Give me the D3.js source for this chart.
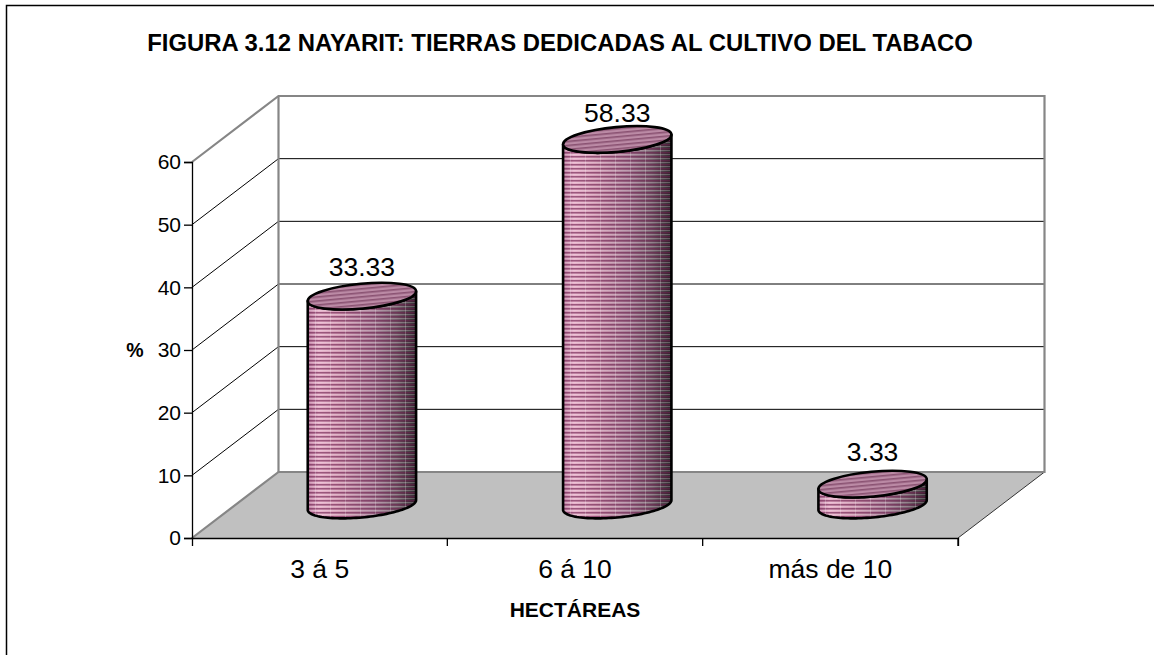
<!DOCTYPE html>
<html><head><meta charset="utf-8">
<script src="https://cdnjs.cloudflare.com/ajax/libs/d3/7.8.5/d3.min.js"></script>
<style>html,body{margin:0;padding:0;background:#fff}svg{display:block}text{font-family:"Liberation Sans",Arial,sans-serif;fill:#000}</style>
</head><body><svg id="c" width="1154" height="655"></svg>
<script>
const titleText = "FIGURA 3.12 NAYARIT: TIERRAS DEDICADAS AL CULTIVO DEL TABACO";
const xTitle = "HECTÁREAS";
const yTitle = "%";
const categories = ["3 á 5","6 á 10","más de 10"];
const values = [33.33,58.33,3.33];
const valueLabels = ["33.33","58.33","3.33"];
const yTicks = [0,10,20,30,40,50,60];

const svg = d3.select("#c");
const frontLeft=192, frontRight=958, frontBase=538, frontTop=162;
const dx=86.5, dy=-66;
const x = d3.scaleBand().domain(categories).range([frontLeft,frontRight]);
const y = d3.scaleLinear().domain([0,60]).range([frontBase,frontTop]);
const labelGap = d3.scaleLinear().domain([0,60]).range([23.3,17.2]);

// chart frame: only its top and left edges fall inside the picture
svg.append("path").attr("d","M1154,5.5H6.5V655").attr("fill","none").attr("stroke","#000").attr("stroke-width",1.5);

// defs
const defs = svg.append("defs");
const side = defs.append("linearGradient").attr("id","side");
[[0,"#b8759a"],[0.1,"#e6aec8"],[0.3,"#d096b0"],[0.6,"#a27690"],[0.82,"#6b5361"],[1,"#1f181d"]].forEach(s=>side.append("stop").attr("offset",s[0]).attr("stop-color",s[1]));
const stripes = defs.append("pattern").attr("id","stripes").attr("patternUnits","userSpaceOnUse").attr("width",15).attr("height",4);
stripes.append("rect").attr("y",0).attr("width",15).attr("height",1.5).attr("fill","#6d2450").attr("fill-opacity",0.62);
stripes.append("rect").attr("y",2.2).attr("width",15).attr("height",1).attr("fill","#fff").attr("fill-opacity",0.34);
stripes.append("rect").attr("x",0).attr("width",1).attr("height",4).attr("fill","#fff").attr("fill-opacity",0.22);
const topP = defs.append("pattern").attr("id","topStripes").attr("patternUnits","userSpaceOnUse").attr("width",4).attr("height",4);
topP.append("rect").attr("width",4).attr("height",4).attr("fill","#bb8aa5");
topP.append("rect").attr("width",4).attr("height",1.6).attr("fill","#8a5272");

// floor
const fl = [[frontLeft,frontBase],[frontRight,frontBase],[frontRight+dx,frontBase+dy],[frontLeft+dx,frontBase+dy]];
svg.append("polygon").attr("points",fl.join(" ")).attr("fill","#c0c0c0");
svg.append("line").attr("x1",frontRight).attr("y1",frontBase).attr("x2",frontRight+dx).attr("y2",frontBase+dy).attr("stroke","#333").attr("stroke-width",1);

// gridlines
yTicks.slice(1,-1).forEach(t=>{
  svg.append("polyline").attr("points",[[frontLeft,y(t)],[frontLeft+dx,y(t)+dy],[frontRight+dx,y(t)+dy]].join(" ")).attr("fill","none").attr("stroke","#000").attr("stroke-width",1);
});
// wall edges, gray
const gray="#868686";
svg.append("polyline").attr("points",[[frontLeft,y(60)],[frontLeft+dx,y(60)+dy],[frontRight+dx,y(60)+dy],[frontRight+dx,y(0)+dy],[frontLeft+dx,y(0)+dy],[frontLeft,y(0)]].join(" ")).attr("fill","none").attr("stroke",gray).attr("stroke-width",2.2);
svg.append("line").attr("x1",frontLeft+dx).attr("y1",y(60)+dy).attr("x2",frontLeft+dx).attr("y2",y(0)+dy).attr("stroke",gray).attr("stroke-width",2.2);

// axes
const yAxis = d3.axisLeft(y).tickValues(yTicks).tickSize(8).tickPadding(3);
const gy = svg.append("g").attr("transform",`translate(${frontLeft},0)`).call(yAxis);
gy.selectAll("text").attr("font-size",21).style("font-family",'"Liberation Sans",Arial,sans-serif');
gy.selectAll("path,line").attr("stroke","#000").attr("stroke-width",1.3);
const xAxis = d3.axisBottom(x).tickSize(8).tickPadding(13).tickSizeOuter(8);
const gx = svg.append("g").attr("transform",`translate(0,${frontBase})`).call(xAxis);
gx.selectAll("path,line").attr("stroke","#000").attr("stroke-width",1.3);
gx.selectAll(".tick line").attr("transform",`translate(${x.step()/2},0)`);
gx.selectAll("text").attr("font-size",26.5).style("font-family",'"Liberation Sans",Arial,sans-serif');

// cylinders
const rx=54.4, ry=12.4, tilt=-5.4;
const t=tilt*Math.PI/180;
const ellipseX=(cx,a)=>cx+rx*Math.cos(a)*Math.cos(t)-ry*Math.sin(a)*Math.sin(t);
const ellipseY=(cy,a)=>cy+rx*Math.cos(a)*Math.sin(t)+ry*Math.sin(a)*Math.cos(t);
const a0=Math.atan2(-ry*Math.sin(t),rx*Math.cos(t)); // rightmost point angle
const cxOff=x.bandwidth()/2 + dx*0.5 - 1;
categories.forEach((c,i)=>{
  const cx=x(c)+cxOff;
  const cyBase=y(0)+dy*0.5;
  const scale=(y(0)-y(60))/60;
  const cyTop=cyBase-values[i]*scale;
  const n=60, lower=d3.range(n+1).map(k=>a0+Math.PI*k/n);
  const pts=[];
  lower.forEach(a=>pts.push([ellipseX(cx,a),ellipseY(cyBase,a)]));
  lower.slice().reverse().forEach(a=>pts.push([ellipseX(cx,a),ellipseY(cyTop,a)]));
  const p=d3.line()(pts)+"Z";
  svg.append("path").attr("d",p).attr("fill","url(#side)");
  svg.append("path").attr("d",p).attr("fill","url(#stripes)").attr("stroke","#000").attr("stroke-width",2.6).attr("stroke-linejoin","round");
  svg.append("ellipse").attr("cx",cx).attr("cy",cyTop).attr("rx",rx).attr("ry",ry)
    .attr("transform",`rotate(${tilt} ${cx} ${cyTop})`).attr("fill","url(#topStripes)").attr("stroke","#000").attr("stroke-width",2.6);
  svg.append("text").attr("x",cx).attr("y",cyTop-labelGap(values[i])).attr("text-anchor","middle").attr("font-size",26.5).text(valueLabels[i]);
});

svg.append("text").attr("x",560).attr("y",51).attr("text-anchor","middle").attr("font-size",23.9).attr("font-weight","bold").text(titleText);
svg.append("text").attr("x",135).attr("y",357).attr("text-anchor","middle").attr("font-size",19.5).attr("font-weight","bold").text(yTitle);
svg.append("text").attr("x",575).attr("y",617).attr("text-anchor","middle").attr("font-size",21).attr("font-weight","bold").text(xTitle);
</script></body></html>
